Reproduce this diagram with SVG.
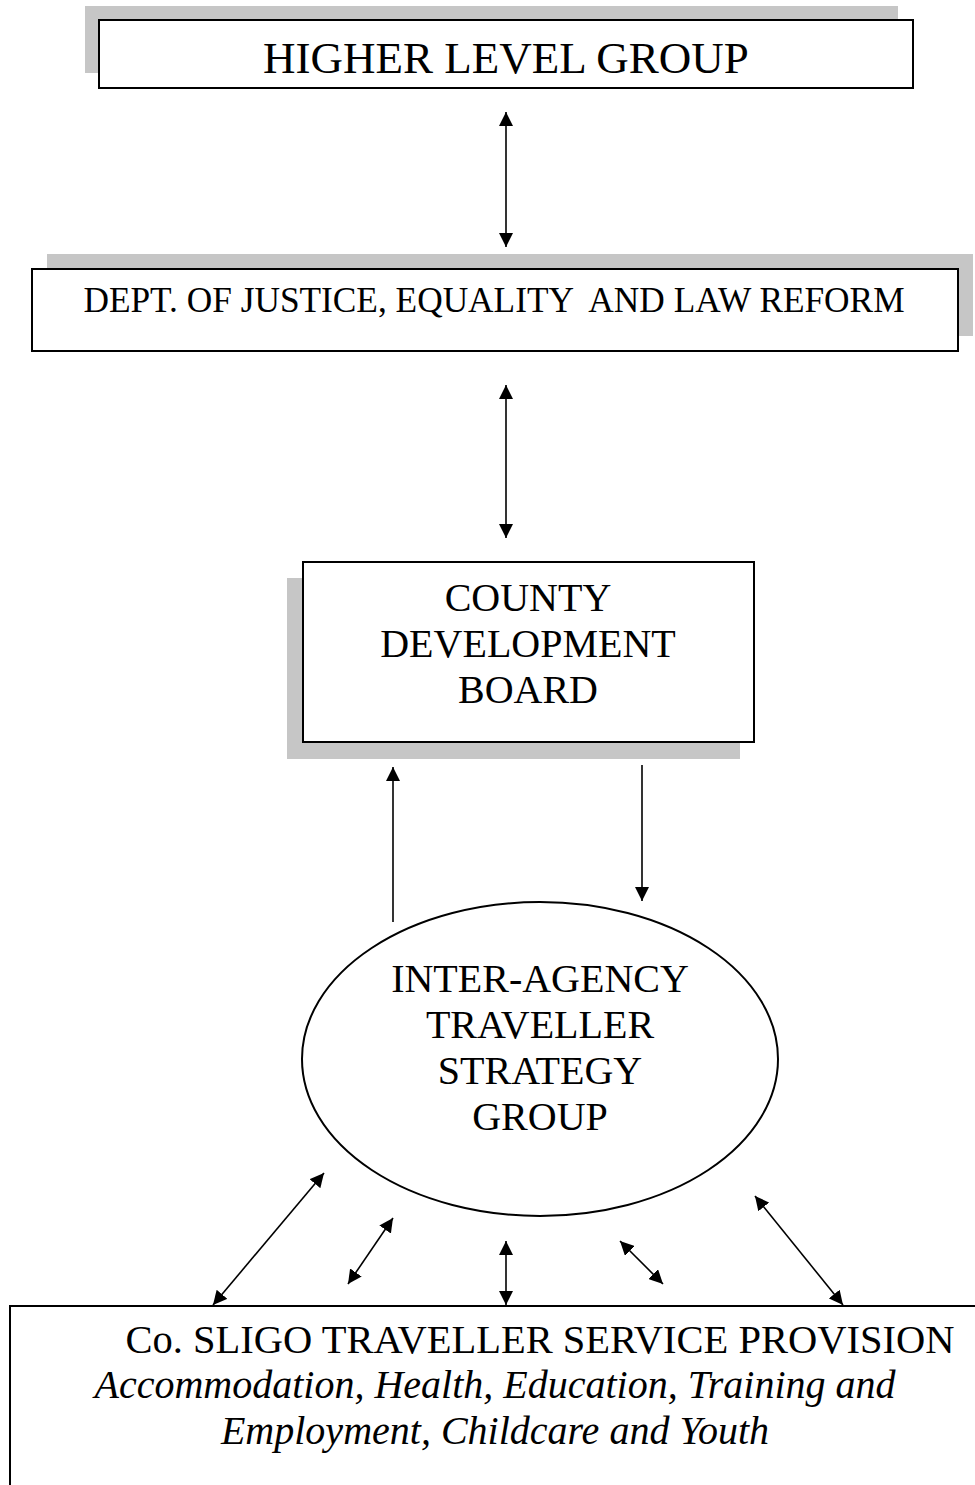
<svg xmlns="http://www.w3.org/2000/svg" width="975" height="1485" viewBox="0 0 975 1485">
<style>
.shadow{fill:#c6c6c6;stroke:none}
.box{fill:#fff;stroke:#000;stroke-width:2}
.t{font-family:"Liberation Serif","Times New Roman",serif;fill:#000;text-anchor:middle}
.ti{font-family:"Liberation Serif","Times New Roman",serif;font-style:italic;fill:#000;text-anchor:middle}
.c{stroke:#000;stroke-width:1.6;fill:none}
</style>
<defs>
<marker id="ah" viewBox="0 0 14 14" refX="14" refY="7" markerWidth="14" markerHeight="14" markerUnits="userSpaceOnUse" orient="auto-start-reverse">
<path d="M0,0 L14,7 L0,14 Z" fill="#000"/>
</marker>
</defs>
<rect width="975" height="1485" fill="#fff"/>
<g id="higher-level-group">
<rect class="shadow" x="85" y="6" width="813" height="67"/>
<rect class="box" x="99" y="20" width="814" height="68"/>
<text class="t" x="506" y="73" font-size="45">HIGHER LEVEL GROUP</text>
</g>
<g id="dept-justice">
<rect class="shadow" x="47" y="254" width="926" height="82"/>
<rect class="box" x="32" y="269" width="926" height="82"/>
<text class="t" x="494" y="312" font-size="35.3" xml:space="preserve">DEPT. OF JUSTICE, EQUALITY  AND LAW REFORM</text>
</g>
<g id="county-development-board">
<rect class="shadow" x="287" y="578" width="453" height="181"/>
<rect class="box" x="303" y="562" width="451" height="180"/>
<text class="t" x="528" y="611" font-size="40">COUNTY</text>
<text class="t" x="528" y="657" font-size="40">DEVELOPMENT</text>
<text class="t" x="528" y="703" font-size="40">BOARD</text>
</g>
<g id="inter-agency-group">
<ellipse cx="540" cy="1059" rx="238" ry="157" fill="#fff" stroke="#000" stroke-width="2"/>
<text class="t" x="540" y="992" font-size="40">INTER-AGENCY</text>
<text class="t" x="540" y="1038" font-size="40">TRAVELLER</text>
<text class="t" x="540" y="1084" font-size="40">STRATEGY</text>
<text class="t" x="540" y="1130" font-size="40">GROUP</text>
</g>
<g id="service-provision">
<rect class="box" x="10" y="1306" width="1000" height="300"/>
<text class="t" x="540" y="1353" font-size="40.5">Co. SLIGO TRAVELLER SERVICE PROVISION</text>
<text class="ti" x="495" y="1398" font-size="40">Accommodation, Health, Education, Training and</text>
<text class="ti" x="495" y="1444" font-size="40">Employment, Childcare and Youth</text>
</g>
<g id="connectors">
<line class="c" x1="506" y1="112" x2="506" y2="247" marker-start="url(#ah)" marker-end="url(#ah)"/>
<line class="c" x1="506" y1="385" x2="506" y2="538" marker-start="url(#ah)" marker-end="url(#ah)"/>
<line class="c" x1="393" y1="922" x2="393" y2="767" marker-end="url(#ah)"/>
<line class="c" x1="642" y1="765" x2="642" y2="901" marker-end="url(#ah)"/>
<line class="c" x1="213" y1="1305" x2="324" y2="1173" marker-start="url(#ah)" marker-end="url(#ah)"/>
<line class="c" x1="348" y1="1284" x2="393" y2="1218" marker-start="url(#ah)" marker-end="url(#ah)"/>
<line class="c" x1="506" y1="1241" x2="506" y2="1305" marker-start="url(#ah)" marker-end="url(#ah)"/>
<line class="c" x1="620" y1="1241" x2="663" y2="1284" marker-start="url(#ah)" marker-end="url(#ah)"/>
<line class="c" x1="755" y1="1196" x2="843" y2="1305" marker-start="url(#ah)" marker-end="url(#ah)"/>
</g>
</svg>
